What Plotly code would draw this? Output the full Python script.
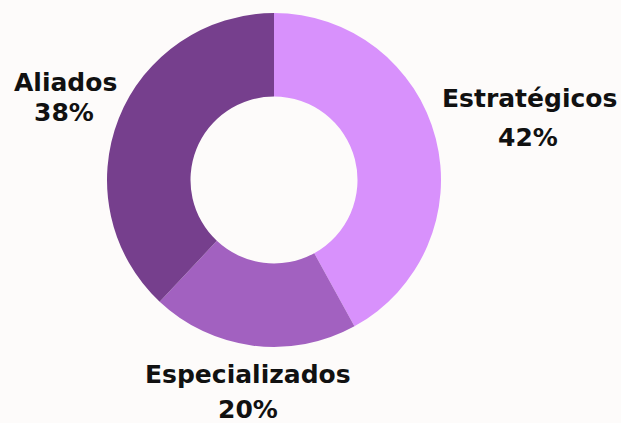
import plotly.graph_objects as go

labels = ["Estratégicos", "Especializados", "Aliados"]
values = [42, 20, 38]
colors = ["#D891FC", "#A261C0", "#763F8D"]

W, H = 621, 423
L, T, S = 107, 13, 334  # plot area (square) in pixels
BG = "#FDFBFA"

def px_to_paper(px, py):
    return (px - L) / S, 1 - (py - T) / S

# label anchor pixel positions (name line, percent line)
label_pos = {
    "Estratégicos": ((529, 99), (528, 137)),
    "Especializados": ((248, 374), (248, 409)),
    "Aliados": ((65, 82), (64, 113)),
}

fig = go.Figure(go.Pie(
    labels=labels,
    values=values,
    hole=0.5,
    sort=False,
    direction="clockwise",
    rotation=0,
    marker=dict(colors=colors, line=dict(width=0)),
    textinfo="none",
    hoverinfo="label+percent",
    showlegend=False,
))

annotations = []
font = dict(family="DejaVu Sans", size=25, color="#111111", weight="bold")
for lab, val in zip(labels, values):
    (nx, ny), (vx, vy) = label_pos[lab]
    x1, y1 = px_to_paper(nx, ny)
    x2, y2 = px_to_paper(vx, vy)
    annotations.append(dict(x=x1, y=y1, xref="paper", yref="paper", text=f"<b>{lab}</b>",
                            showarrow=False, xanchor="center", yanchor="middle", font=font))
    annotations.append(dict(x=x2, y=y2, xref="paper", yref="paper", text=f"<b>{val}%</b>",
                            showarrow=False, xanchor="center", yanchor="middle", font=font))

fig.update_layout(
    width=W, height=H,
    margin=dict(l=L, r=W - L - S, t=T, b=H - T - S, pad=0),
    paper_bgcolor=BG,
    plot_bgcolor=BG,
    annotations=annotations,
)

fig.write_html(
    "out.html",
    config={"displayModeBar": False},
    post_script=f"document.body.style.margin='0';document.body.style.background='{BG}';document.body.style.overflow='hidden';",
)
